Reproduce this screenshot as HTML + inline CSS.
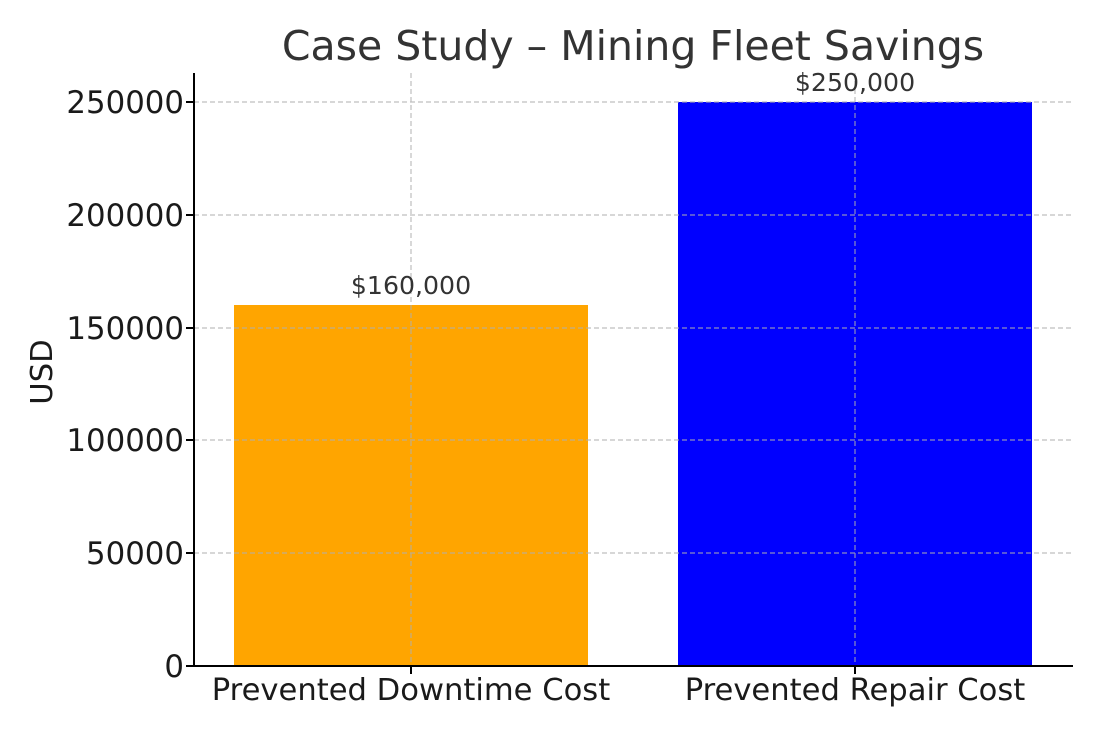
<!DOCTYPE html>
<html><head><meta charset="utf-8"><style>html,body{margin:0;padding:0;background:#fff}</style></head>
<body>
<svg width="1100" height="733" xmlns="http://www.w3.org/2000/svg" font-family="DejaVu Sans, Liberation Sans, sans-serif">
<rect width="1100" height="733" fill="#fff"/>
<rect x="234" y="305" width="354" height="361" fill="#FFA500"/>
<rect x="678" y="102" width="354" height="564" fill="#0000FF"/>
<g stroke="#b0b0b0" stroke-width="1.2" stroke-dasharray="5,3" opacity="0.8">
<line x1="194" x2="1073" y1="102" y2="102"/>
<line x1="194" x2="1073" y1="215" y2="215"/>
<line x1="194" x2="1073" y1="328" y2="328"/>
<line x1="194" x2="1073" y1="440" y2="440"/>
<line x1="194" x2="1073" y1="553" y2="553"/>
<line x1="411" x2="411" y1="73" y2="666"/>
<line x1="855" x2="855" y1="73" y2="666"/>
</g>
<g stroke="#000" stroke-width="2">
<line x1="194" x2="194" y1="73" y2="667"/>
<line x1="193" x2="1073" y1="666" y2="666"/>
<line x1="186" x2="194" y1="666" y2="666"/>
<line x1="186" x2="194" y1="553" y2="553"/>
<line x1="186" x2="194" y1="440" y2="440"/>
<line x1="186" x2="194" y1="328" y2="328"/>
<line x1="186" x2="194" y1="215" y2="215"/>
<line x1="186" x2="194" y1="102" y2="102"/>
<line x1="411" x2="411" y1="666" y2="674"/>
<line x1="855" x2="855" y1="666" y2="674"/>
</g>
<g font-size="30.8" fill="#1a1a1a" text-anchor="end">
<text x="184" y="677">0</text>
<text x="184" y="564">50000</text>
<text x="184" y="451">100000</text>
<text x="184" y="339">150000</text>
<text x="184" y="226">200000</text>
<text x="184" y="113">250000</text>
</g>
<g font-size="30.6" fill="#1a1a1a" text-anchor="middle">
<text x="411" y="700">Prevented Downtime Cost</text>
<text x="855" y="700">Prevented Repair Cost</text>
</g>
<text x="52" y="372" font-size="30.6" fill="#1a1a1a" text-anchor="middle" transform="rotate(-90 52 372)">USD</text>
<text x="633" y="60" font-size="41" fill="#333" text-anchor="middle">Case Study – Mining Fleet Savings</text>
<g font-size="25.2" fill="#333" text-anchor="middle">
<text x="411" y="294">$160,000</text>
<text x="855" y="91">$250,000</text>
</g>
</svg>
</body></html>
